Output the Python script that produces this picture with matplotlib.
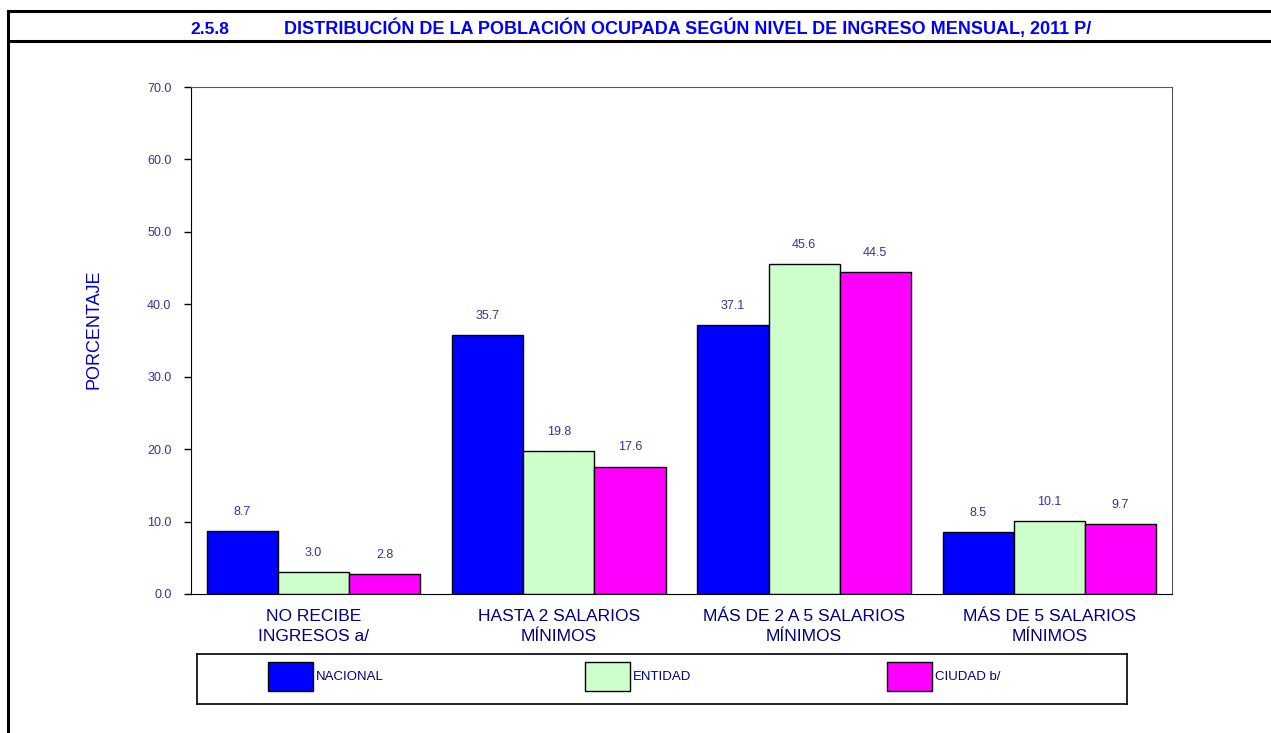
import numpy as np
import matplotlib
matplotlib.use('Agg')
from matplotlib import pyplot as plt
from matplotlib.patches import Rectangle
from matplotlib.lines import Line2D

categories = ['NO RECIBE\nINGRESOS a/', 'HASTA 2 SALARIOS\nMÍNIMOS',
              'MÁS DE 2 A 5 SALARIOS\nMÍNIMOS', 'MÁS DE 5 SALARIOS\nMÍNIMOS']
series_names = ['NACIONAL', 'ENTIDAD', 'CIUDAD b/']
nacional = [8.7, 35.7, 37.1, 8.5]
entidad = [3.0, 19.8, 45.6, 10.1]
ciudad = [2.8, 17.6, 44.5, 9.7]
yticks = [0, 10, 20, 30, 40, 50, 60, 70]
title_num = '2.5.8'
title = 'DISTRIBUCIÓN DE LA POBLACIÓN OCUPADA SEGÚN NIVEL DE INGRESO MENSUAL, 2011 P/'

colors = ['#0000FF', '#CCFFCC', '#FF00FF']
font = ['Liberation Sans', 'DejaVu Sans']
W, H = 1271, 733

fig = plt.figure(figsize=(W / 100, H / 100), dpi=100)

# outer frame
for y in (11, 41):
    fig.add_artist(Line2D([8 / W, 1], [1 - y / H, 1 - y / H], color='black', lw=2.2))
fig.add_artist(Line2D([8 / W, 8 / W], [1 - 11 / H, 0], color='black', lw=2.2))
fig.text(190 / W, 1 - 34 / H, title_num, ha='left', va='baseline', color='#0000FF',
         fontsize=12.5, fontweight='bold', family=font)
fig.text(688 / W, 1 - 34 / H, title, ha='center', va='baseline', color='#0000FF',
         fontsize=13, fontweight='bold', family=font)

ax = fig.add_axes([191 / W, 1 - 594 / H, (1172 - 191) / W, (594 - 87) / H])
x = np.arange(len(categories))
bw = 0.29
for i, vals in enumerate([nacional, entidad, ciudad]):
    pos = x + (i - 1) * bw
    ax.bar(pos, vals, bw, color=colors[i], edgecolor='black', linewidth=1)
    for p, v in zip(pos, vals):
        ax.text(p, v + 1.8, f'{v:.1f}', ha='center', va='bottom', fontsize=9,
                color='#333399', family=font)

ax.set_xlim(-0.5, 3.5)
ax.set_ylim(0, 70)
ax.set_yticks(yticks)
ax.set_yticklabels([f'{v:.1f}' for v in yticks], fontsize=9, color='#333399', family=font)
ax.tick_params(axis='y', direction='out', length=5, width=1, pad=9)
ax.set_xticks(x)
ax.set_xticklabels(categories, fontsize=12.5, color='#000080', family=font, linespacing=1.4)
ax.tick_params(axis='x', length=0, pad=11)
ax.spines['left'].set_color('black')
ax.spines['bottom'].set_color('black')
ax.spines['top'].set_color('#555555')
ax.spines['right'].set_color('#555555')
ax.set_ylabel('PORCENTAJE', fontsize=13, color='#0000CC', family=font)
ax.yaxis.set_label_coords((103 - 191) / 981, (594 - 329) / 507)

# legend box
lax = fig.add_axes([197 / W, 1 - 704 / H, (1127 - 197) / W, (704 - 654) / H])
lax.set_xlim(197, 1127)
lax.set_ylim(704, 654)
lax.set_xticks([])
lax.set_yticks([])
for s in lax.spines.values():
    s.set_linewidth(1.2)
patch_x = [268, 585, 887]
for px, c, name in zip(patch_x, colors, series_names):
    lax.add_patch(Rectangle((px, 662), 45, 29, facecolor=c, edgecolor='black', lw=1))
    lax.text(px + 48, 677, name, va='center', ha='left', fontsize=9.5,
             color='#000080', family=font)

fig.savefig('out.png', dpi=100)
